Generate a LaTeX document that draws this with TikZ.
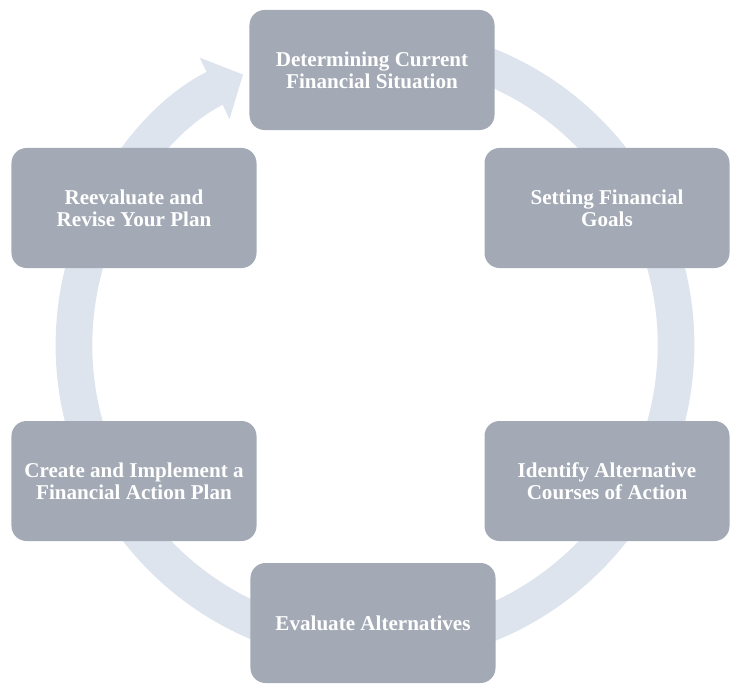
\documentclass[tikz,border=0pt]{standalone}
\usepackage{fontspec}
\setmainfont{Liberation Serif}
\usepackage{tikz}
\usetikzlibrary{arrows.meta,positioning}
\definecolor{stageFill}{RGB}{163,170,181}
\definecolor{ringFill}{RGB}{222,228,238}

\begin{document}
\begin{tikzpicture}[x=0.03cm, y=0.03cm,
    stage/.style={fill=stageFill, rounded corners=0.45cm, minimum width=7.35cm,
      minimum height=3.6cm, align=center, text=white,
      font=\bfseries\fontsize{18}{18.5}\selectfont},
    ring/.style={ringFill, line width=1.1cm,
      -{Triangle[width=2cm, length=0.95cm]}}]
    \useasboundingbox (0,0) rectangle (731,686);
    % the cycle arrow behind the boxes
    \coordinate (hub) at (375,341);
    \draw[ring] ([shift={(80:301)}]hub) arc[start angle=80, end angle=-244, radius=301];
    % the six steps, clockwise from the top
    \node[stage] (detsit) at (372,616) {Determining Current\\Financial Situation};
    \node[stage] (goals) at (607,478) {Setting Financial\\Goals};
    \node[stage] (altern) at (607,205) {Identify Alternative\\Courses of Action};
    \node[stage] (evalalt) at (373,63) {Evaluate Alternatives};
    \node[stage] (actplan) at (134,205) {Create and Implement a\\Financial Action Plan};
    \node[stage] (revise) at (134,478) {Reevaluate and\\Revise Your Plan};
  \end{tikzpicture}
\end{document}
